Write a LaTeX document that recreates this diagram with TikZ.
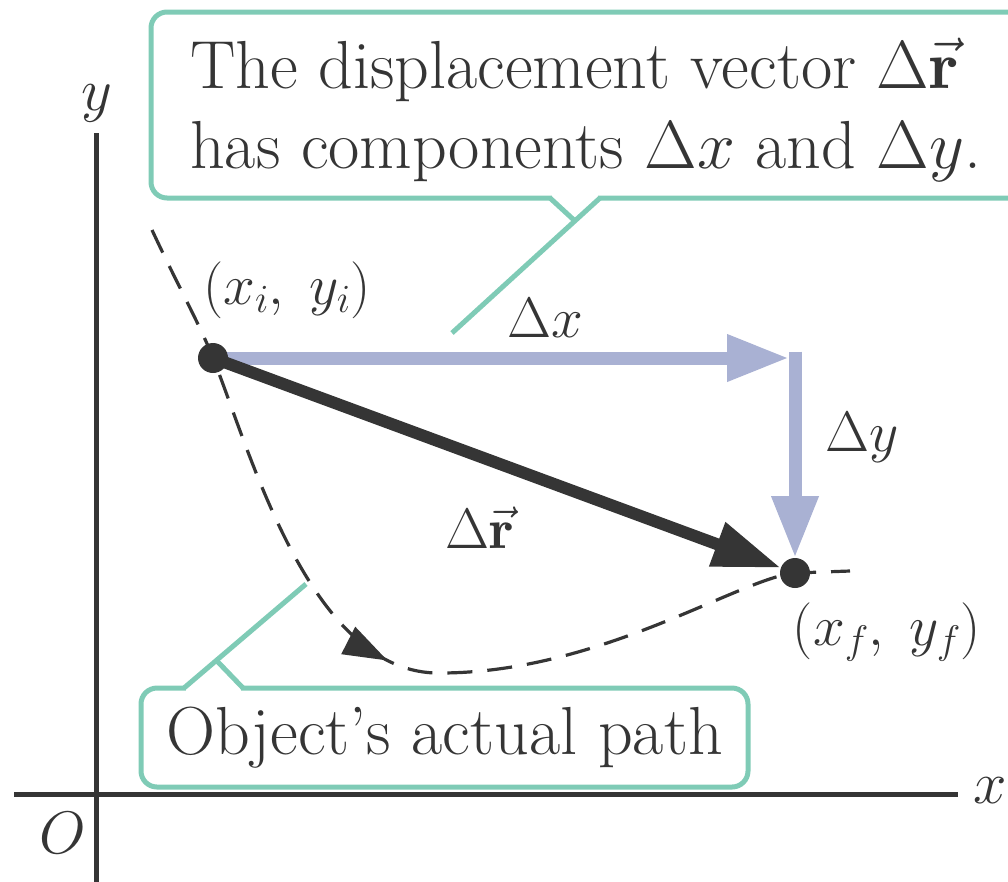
\RequirePackage{fix-cm}
\documentclass[tikz,border=0pt]{standalone}
\usepackage{amsmath}
\usepackage{fontspec}
\usetikzlibrary{arrows.meta,decorations.markings}
\definecolor{calloutc}{HTML}{7FCBB6}
\definecolor{compc}{HTML}{A9B1D3}
\definecolor{darkc}{HTML}{353535}
\pgfdeclarelayer{background}
\pgfsetlayers{background,main}
\begin{document}
\begin{tikzpicture}[x=1pt,y=-1pt,
  callout/.style={draw=calloutc, line width=5pt, rounded corners=16pt, inner sep=0pt, outer sep=0pt},
  leader/.style={draw=calloutc, line width=5pt},
  axisline/.style={draw=darkc, line width=5pt},
  dot/.style={circle, fill=darkc, inner sep=0pt, outer sep=0pt, minimum size=30pt},
  comp/.style={draw=compc, line width=13pt, -{Triangle[length=62pt,width=44pt]}},
  disp/.style={draw=darkc, line width=12pt, -{Triangle[length=68pt,width=44pt]}},
  bigtext/.style={font=\fontsize{68}{80}\selectfont, inner sep=0pt, text=darkc},
  lbl/.style={font=\fontsize{57}{60}\selectfont, inner sep=0pt, text=darkc},
  axlbl/.style={font=\fontsize{60}{64}\selectfont, inner sep=0pt, text=darkc},
  pathline/.style={draw=darkc, line width=3.2pt, dash pattern=on 25pt off 15pt}
]
\useasboundingbox (0,0) rectangle (1008,881);
\clip (0,0) rectangle (1008,881);

% axes
\coordinate (ytop) at (96,133);
\coordinate (ybot) at (96,885);
\coordinate (xleft) at (14,794);
\coordinate (xright) at (958,794);
\draw[axisline] (ytop) -- (ybot);
\draw[axisline] (xleft) -- (xright);
\node[axlbl] (ylab) at (97,103) {$y$};
\node[axlbl] (xlab) at (990,791) {$x$};
\node[axlbl] (olab) at (63,833) {$O$};

% top callout
\node[callout, anchor=north west, minimum width=900pt, minimum height=186pt] (topbox) at (151,12) {};
\fill[white] (552,193) rectangle (598,203);
\coordinate (tpa) at (550,198);
\coordinate (tpb) at (600,198);
\coordinate (tpm) at (575,221);
\coordinate (tpe) at (452,333);
\draw[leader] (tpa) -- (tpm);
\draw[leader] (tpb) -- (tpe);
\node[bigtext, anchor=base west] (line1) at (190,88) {The displacement vector $\Delta\vec{\mathbf{r}}$};
\node[bigtext, anchor=base west] (line2) at (190,168) {has components $\Delta x$ and $\Delta y$.};

% bottom callout
\node[callout, bigtext, minimum width=607pt, minimum height=99pt] (botbox) at (444.5,737.5) {Object’s actual path};
\fill[white] (186,683) rectangle (241,693);
\coordinate (bpa) at (184,688);
\coordinate (bpb) at (243,688);
\coordinate (bpm) at (217,661);
\coordinate (bpe) at (306,584);
\draw[leader] (bpa) -- (bpe);
\draw[leader] (bpb) -- (bpm);

% points
\node[dot] (pi) at (213,358) {};
\node[dot] (pf) at (795,573) {};
\coordinate (corner) at (795,358);
\coordinate (ps) at (152,230);
\coordinate (pbot) at (440,673);
\coordinate (pe) at (850,571);

\begin{pgfonlayer}{background}
\draw[pathline, postaction={decorate},
  decoration={markings, mark=at position 498pt with {\arrow[darkc]{Triangle[length=44pt,width=30pt]}}}]
  (ps) .. controls (180,290) and (200,325) .. (pi.center)
  .. controls (250,450) and (310,675) .. (pbot)
  .. controls (600,673) and (740,578) .. (pf.center) -- (pe);
\draw[comp] ([yshift=6.5pt]corner) -- (pf.north);
\draw[comp] (pi.center) -- ([xshift=-6pt]corner);
\draw[disp] (pi.center) -- (pf);
\end{pgfonlayer}

% labels
\node[lbl] (dxlab) at (545,318) {$\Delta x$};
\node[lbl] (dylab) at (862,438) {$\Delta y$};
\node[lbl] (drlab) at (480,528) {$\Delta\vec{\mathbf{r}}$};
\node[lbl] (pilab) at (287,290) {$(x_i,\;y_i)$};
\node[lbl] (pflab) at (887,632) {$(x_f,\;y_f)$};
\end{tikzpicture}
\end{document}
